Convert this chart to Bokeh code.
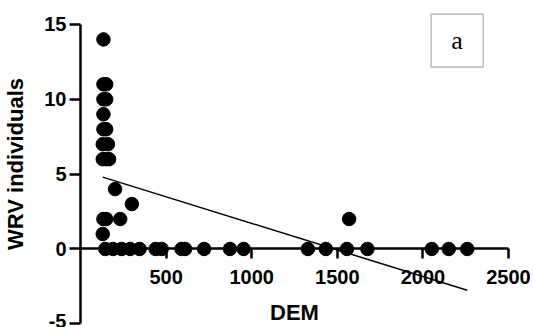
from bokeh.plotting import figure
from bokeh.models import Range1d, LinearAxis, FixedTicker, BoxAnnotation, Label
from bokeh.embed import file_html
from bokeh.resources import INLINE

# ---- data ----
dem = [134, 134, 150, 134, 150, 134, 134, 150, 130, 160, 130, 150, 167,
       202, 300, 134, 150, 232, 130, 1569,
       145, 190, 240, 290, 345, 439, 474, 590, 611, 722, 873, 953,
       1328, 1433, 1556, 1676, 2052, 2151, 2259]
wrv = [14, 11, 11, 10, 10, 9, 8, 8, 7, 7, 6, 6, 6,
       4, 3, 2, 2, 2, 1, 2,
       0, 0, 0, 0, 0, 0, 0, 0, 0, 0, 0, 0,
       0, 0, 0, 0, 0, 0, 0]
fit_slope = -0.00355
fit_intercept = 5.26
x_ticks = [500, 1000, 1500, 2000, 2500]
y_ticks = [-5, 0, 5, 10, 15]
x_label = "DEM"
y_label = "WRV individuals"
panel_tag = "a"

FONT = "Liberation Sans"

p = figure(width=533, height=327, output_backend="svg", toolbar_location=None,
           x_range=Range1d(0, 2646), y_range=Range1d(-5.247, 16.6),
           x_axis_location=None,
           min_border_left=80, min_border_right=0,
           min_border_top=0, min_border_bottom=0)
p.grid.visible = False
p.outline_line_color = None
p.background_fill_color = "white"
p.border_fill_color = "white"

def style_axis(ax):
    ax.axis_line_width = 2.5
    ax.axis_line_color = "black"
    ax.major_tick_line_width = 2.5
    ax.major_tick_line_color = "black"
    ax.major_tick_in = 0
    ax.major_tick_out = 10
    ax.minor_tick_in = 0
    ax.minor_tick_out = 0
    ax.major_label_text_font = FONT
    ax.major_label_text_font_style = "bold"
    ax.major_label_text_font_size = "20px"
    ax.major_label_text_color = "black"
    ax.axis_label_text_font = FONT
    ax.axis_label_text_font_style = "bold"
    ax.axis_label_text_font_size = "22px"
    ax.axis_label_text_color = "black"

yax = p.yaxis[0]
yax.ticker = FixedTicker(ticks=y_ticks)
yax.bounds = (y_ticks[0], y_ticks[-1])
yax.major_label_overrides = {t: str(t) for t in y_ticks}
yax.axis_label = y_label
style_axis(yax)
yax.major_tick_out = 11
yax.major_label_standoff = 3
yax.axis_label_standoff = 13

xax = LinearAxis(fixed_location=0, ticker=FixedTicker(ticks=x_ticks),
                 bounds=(0, x_ticks[-1]), axis_label=x_label)
style_axis(xax)
xax.major_label_standoff = 11
xax.axis_label_standoff = 13
p.add_layout(xax, "below")

p.scatter(dem, wrv, size=13.5, color="black")

x0, x1 = min(dem), max(dem)
p.line([x0, x1], [fit_intercept + fit_slope * x0, fit_intercept + fit_slope * x1],
       line_color="black", line_width=1.5)

box = BoxAnnotation(left=2048, right=2352, bottom=12.15, top=15.69,
                    fill_color="white", fill_alpha=1.0,
                    line_color="#333333", line_width=1.7)
p.add_layout(box)
p.add_layout(Label(x=2200, y=13.9, text=panel_tag, text_align="center",
                   text_baseline="middle", text_font="Liberation Serif",
                   text_font_size="26px", text_color="black"))

open("out.html", "w").write(file_html(p, INLINE))
